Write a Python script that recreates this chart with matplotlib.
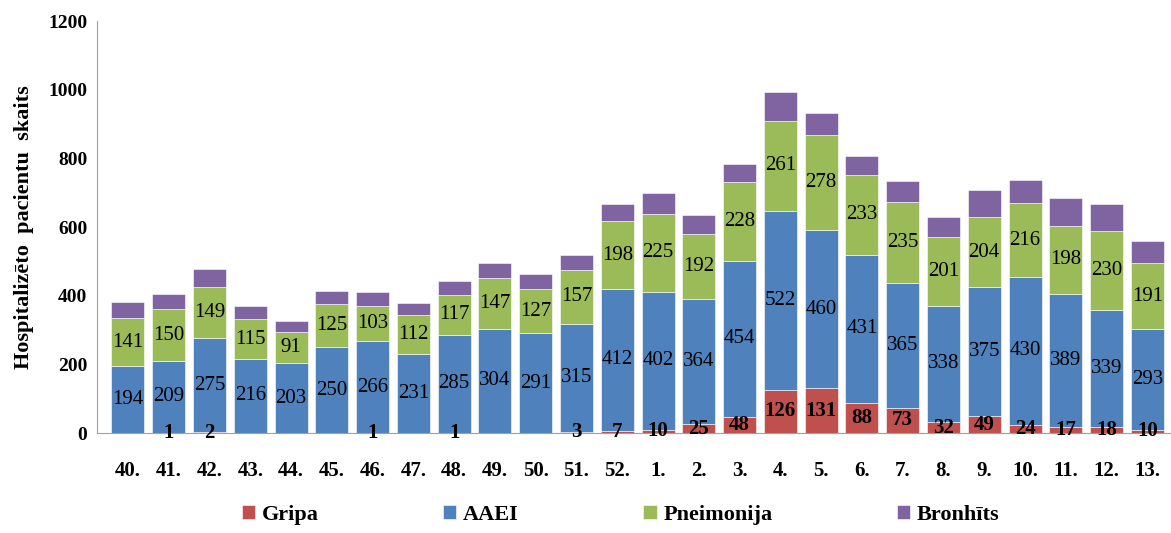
import numpy as np
import matplotlib.pyplot as plt

# === Data ===
weeks = ["40.", "41.", "42.", "43.", "44.", "45.", "46.", "47.", "48.", "49.",
         "50.", "51.", "52.", "1.", "2.", "3.", "4.", "5.", "6.", "7.",
         "8.", "9.", "10.", "11.", "12.", "13."]
gripa = [0, 1, 2, 0, 0, 0, 1, 0, 1, 0, 0, 3, 7, 10, 25, 48, 126, 131, 88, 73,
         32, 49, 24, 17, 18, 10]
aaei = [194, 209, 275, 216, 203, 250, 266, 231, 285, 304, 291, 315, 412, 402,
        364, 454, 522, 460, 431, 365, 338, 375, 430, 389, 339, 293]
pneimonija = [141, 150, 149, 115, 91, 125, 103, 112, 117, 147, 127, 157, 198,
              225, 192, 228, 261, 278, 233, 235, 201, 204, 216, 198, 230, 191]
bronhits = [48, 45, 52, 40, 31, 40, 40, 37, 40, 45, 45, 44, 49, 62, 53, 53,
            83, 62, 56, 62, 57, 79, 66, 80, 79, 66]

colors = {"Gripa": "#C0504D", "AAEI": "#4F81BD",
          "Pneimonija": "#9BBB59", "Bronhīts": "#8064A2"}

plt.rcParams["font.family"] = ["Liberation Serif", "DejaVu Serif"]

fig = plt.figure(figsize=(11.71, 5.33), dpi=100)
ax = fig.add_axes([0.0828, 0.1876, 0.9172, 0.773])

x = np.arange(len(weeks))
g = np.array(gripa)
a = np.array(aaei)
p = np.array(pneimonija)
b = np.array(bronhits)
w = 0.81

ax.bar(x, g, w, color=colors["Gripa"], edgecolor="white", linewidth=0.4, label="Gripa")
ax.bar(x, a, w, bottom=g, color=colors["AAEI"], edgecolor="white", linewidth=0.4, label="AAEI")
ax.bar(x, p, w, bottom=g + a, color=colors["Pneimonija"], edgecolor="white", linewidth=0.4, label="Pneimonija")
ax.bar(x, b, w, bottom=g + a + p, color=colors["Bronhīts"], edgecolor="white", linewidth=0.4, label="Bronhīts")

# data labels
for i in range(len(weeks)):
    if g[i] > 0:
        ax.text(x[i], g[i] / 2, str(g[i]), ha="center", va="center",
                fontsize=15, fontweight="bold")
    ax.text(x[i], g[i] + a[i] / 2, str(a[i]), ha="center", va="center", fontsize=15)
    ax.text(x[i], g[i] + a[i] + p[i] / 2, str(p[i]), ha="center", va="center", fontsize=15)

ax.set_xlim(-0.76, 25.58)
ax.set_ylim(0, 1200)
ax.set_yticks(np.arange(0, 1201, 200))
ax.set_yticklabels([str(v) for v in range(0, 1201, 200)], fontsize=14, fontweight="bold")
ax.set_xticks(x)
ax.set_xticklabels(weeks, fontsize=15, fontweight="bold")
ax.tick_params(axis="y", length=0, pad=7)
ax.tick_params(axis="x", length=0, pad=20)

for s in ["top", "right"]:
    ax.spines[s].set_visible(False)
ax.spines["left"].set_color("#A0A0A0")
ax.spines["bottom"].set_color("#A0A0A0")

ax.set_ylabel("Hospitalizēto  pacientu  skaits", fontsize=16, fontweight="bold", labelpad=10)

fig.legend(loc="lower center", bbox_to_anchor=(0.53, -0.022), ncol=4, frameon=False,
           prop={"size": 16, "weight": "bold"}, handlelength=0.6, handleheight=0.6,
           handletextpad=0.3, columnspacing=5.6)

fig.savefig("out.png", dpi=100)
